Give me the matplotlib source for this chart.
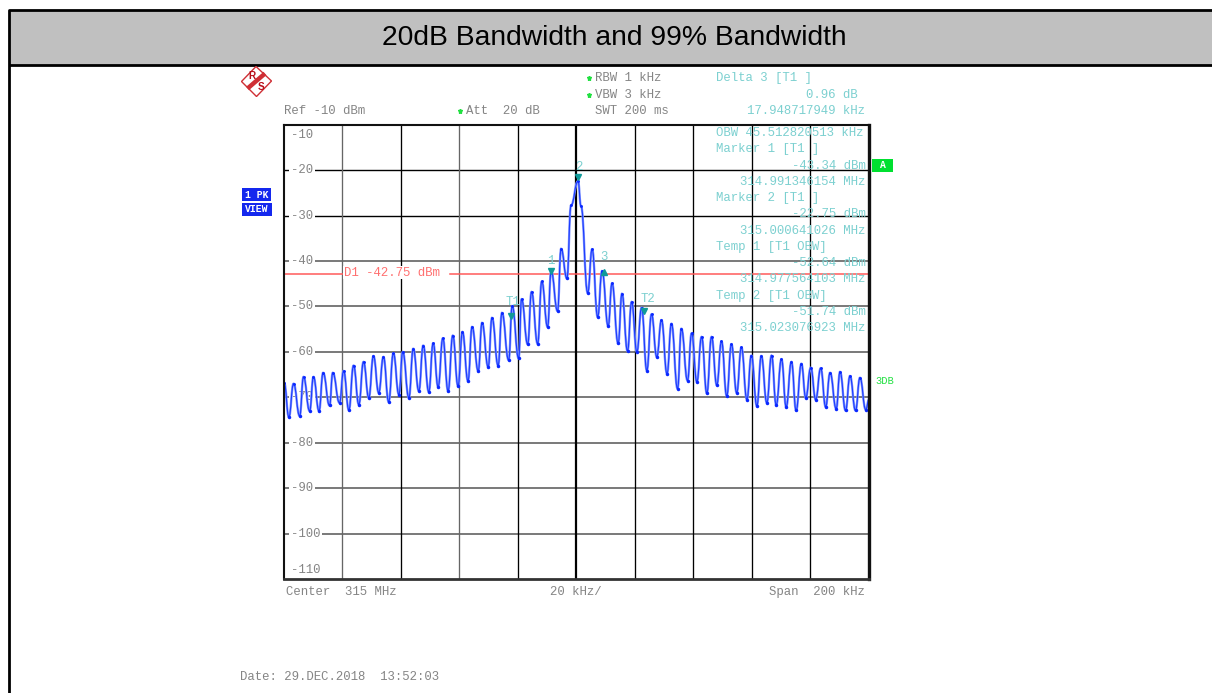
import matplotlib
matplotlib.use("Agg")
import matplotlib.pyplot as plt
from matplotlib.path import Path
from matplotlib.patches import PathPatch, Rectangle, Polygon

# ---- data ----
peak_khz = [-99.8,-96.6,-93.2,-89.8,-86.5,-83.2,-79.5,-76.1,-72.7,-69.3,-65.9,-62.5,-59.3,-55.7,-52.3,-48.9,
            -45.6,-42.2,-38.9,-35.6,-32.2,-28.8,-25.4,-21.9,-18.7,-15.3,-11.8,-8.6,-5.2,-1.8,0.6,1.6,5.4,8.8,
            12.2,15.6,18.9,22.3,25.7,29.1,32.5,35.9,39.4,42.8,46.2,49.6,53.0,56.4,59.8,63.2,66.7,70.1,73.5,
            76.9,80.1,83.5,86.7,90.1,93.5,96.9]
peak_dbm = [-66.8,-67.0,-65.5,-65.5,-64.6,-64.6,-64.2,-63.0,-62.2,-60.9,-61.1,-60.3,-60.0,-59.3,-58.6,-58.1,
            -57.0,-56.4,-55.6,-54.5,-53.6,-52.5,-51.4,-49.9,-48.4,-46.8,-44.5,-42.2,-37.3,-27.7,-22.4,-27.9,
            -37.4,-42.2,-44.9,-47.2,-49.0,-50.3,-51.7,-53.0,-53.8,-54.9,-55.9,-56.7,-56.7,-57.7,-58.3,-59.0,
            -60.8,-60.9,-60.8,-61.6,-62.2,-62.6,-63.5,-63.6,-64.6,-64.4,-65.3,-65.7]
trough_khz = [-98.2,-94.5,-91.1,-87.9,-84.3,-80.9,-77.7,-74.3,-70.9,-67.5,-64.1,-60.6,-57.2,-53.8,-50.4,-47.2,
              -43.8,-40.4,-37.0,-33.5,-30.1,-26.7,-23.1,-19.7,-16.6,-13.2,-9.8,-6.4,-3.2,3.9,7.3,10.9,14.3,17.5,
              20.7,24.1,27.5,31.0,34.6,38.0,41.2,44.6,48.0,51.4,54.8,58.3,61.7,65.1,68.3,71.7,75.1,78.4,81.8,
              85.2,88.8,92.0,95.4,98.9]
trough_dbm = [-74.35,-74.1,-73.0,-73.0,-71.8,-71.2,-72.8,-71.6,-70.1,-69.0,-71.0,-69.4,-70.1,-68.6,-68.8,-67.7,
              -68.6,-67.5,-66.4,-64.2,-63.3,-63.0,-61.8,-61.4,-58.3,-58.2,-54.5,-51.0,-43.8,-47.0,-52.3,-54.3,
              -58.1,-59.8,-60.0,-64.1,-61.1,-64.8,-68.1,-66.3,-66.6,-69.1,-67.3,-69.7,-69.0,-70.5,-71.9,-71.2,
              -71.7,-72.1,-72.9,-70.1,-70.5,-72.1,-72.5,-72.9,-72.9,-72.7]
trace_end_khz = [-100.0, 100.0]
trace_end_dbm = [-67.5, -70.5]

marker_khz = [-8.65, 0.64, 9.3, -22.44, 23.08]
marker_dbm = [-42.2, -21.6, -42.4, -52.2, -50.9]
marker_names = ["1", "2", "3", "T1", "T2"]
marker_shape = ["v", "v", "^", "v", "v"]
display_line_dbm = -42.75
level_ticks = [-10,-20,-30,-40,-50,-60,-70,-80,-90,-100,-110]
freq_ticks = [-80,-60,-40,-20,0,20,40,60,80]

title = "20dB Bandwidth and 99% Bandwidth"
teal_left = [("Delta 3 [T1 ]",78),("OBW 45.512820513 kHz",133),("Marker 1 [T1 ]",149),("Marker 2 [T1 ]",198),
             ("Temp 1 [T1 OBW]",247),("Temp 2 [T1 OBW]",296)]
teal_right = [("0.96 dB",95,858),("17.948717949 kHz",111,865),("-43.34 dBm",166,866),("314.991346154 MHz",182,865),
              ("-22.75 dBm",214,866),("315.000641026 MHz",231,865),("-52.64 dBm",263,866),
              ("314.977564103 MHz",279,865),("-51.74 dBm",312,866),("315.023076923 MHz",328,865)]

W, H = 1212, 693
MONO = "Liberation Mono"
FS = 8.95
GREY = "#858585"
TEAL = "#7cd0d0"
GREEN = "#20e040"

fig = plt.figure(figsize=(W/100, H/100), dpi=100, facecolor="white")

def frame(x0, y0, x1, y1):
    return [x0/W, 1-y1/H, (x1-x0)/W, (y1-y0)/H]

# ---- spectrum axes ----
ax = fig.add_axes(frame(283.6, 124.8, 869.0, 579.0))
ax.set_xlim(-100, 100)
ax.set_ylim(-110, -10)
ax.set_xticks([]); ax.set_yticks([])
for s in ax.spines.values():
    s.set_linewidth(1.5); s.set_color("#111111"); s.set_zorder(6)
ax.spines["right"].set_linewidth(2.4)
ax.spines["bottom"].set_linewidth(2.0)
ax.spines["bottom"].set_color("#333333")

for v in level_ticks[1:-1]:
    ax.axhline(v, color="#000000" if v > -35 else "#555555", lw=1.0 if v > -35 else 1.1, zorder=1)
for f in freq_ticks:
    col = "#666666" if f in (-80, -40) else "#000000"
    ax.axvline(f, color=col, lw=1.6 if f == 0 else 0.95, zorder=1)

ax.plot([-100, -79.6], [display_line_dbm] * 2, color="#ff5a5a", lw=1.1, zorder=2)
ax.plot([-43.2, 100], [display_line_dbm] * 2, color="#ff5a5a", lw=1.1, zorder=2)

# level labels sit under the trace
for v in level_ticks:
    yv = {-10: -12.2, -110: -108.0}.get(v, v)
    ax.text(-97.5, yv, str(v), family=MONO, fontsize=FS, color=GREY, ha="left", va="center", zorder=2.5,
            bbox=dict(fc="white", ec="none", pad=1.2) if -110 < v < -10 else None)

# trace: smooth path through read extrema
pts = sorted(list(zip(peak_khz, peak_dbm)) + list(zip(trough_khz, trough_dbm)) +
             list(zip(trace_end_khz, trace_end_dbm)))
verts = [pts[0]]
codes = [Path.MOVETO]
for (x0, y0), (x1, y1) in zip(pts[:-1], pts[1:]):
    d = (x1 - x0) * 0.46
    verts += [(x0 + d, y0), (x1 - d, y1), (x1, y1)]
    codes += [Path.CURVE4] * 3
trace_path = Path(verts, codes)
ax.add_patch(PathPatch(trace_path, fc="none", ec="#8296ff", lw=1.7, zorder=3))
ax.add_patch(PathPatch(trace_path, fc="none", ec="#1c3cff", lw=0.8, zorder=3.5))
ax.plot(peak_khz, peak_dbm, ls="none", marker="o", ms=2.1, mfc="#0a28ff", mec="none", zorder=4)
ax.plot(trough_khz, trough_dbm, ls="none", marker="o", ms=2.5, mfc="#0a28ff", mec="none", zorder=4)

for x, y, sh in zip(marker_khz, marker_dbm, marker_shape):
    ax.plot([x], [y], ls="none", marker=sh, ms=5, mfc="#109a9a", mec="#109a9a", zorder=5)

# ---- overlay in pixel coordinates ----
ov = fig.add_axes([0, 0, 1, 1], facecolor="none")
ov.set_xlim(0, W); ov.set_ylim(H, 0); ov.axis("off")

ov.add_patch(Rectangle((9, 10), W-9, 55, fc="#c0c0c0", ec="none", zorder=1))
ov.plot([W, 9, 9], [10, 10, H], color="black", lw=2.0, solid_capstyle="butt", zorder=2)
ov.plot([9, W], [65, 65], color="black", lw=2.0, solid_capstyle="butt", zorder=2)
ov.text(614.5, 38, title, family="Liberation Sans", fontsize=20.3, color="black", ha="center", va="center")

def mono(x, y, s, color=GREY, ha="left", fs=FS, **kw):
    return ov.text(x, y, s, family=MONO, fontsize=fs, color=color, ha=ha, va="center", zorder=5, **kw)

mono(284.5, 111, "Ref -10 dBm")
mono(466.5, 111, "Att  20 dB")
mono(595, 78, "RBW 1 kHz")
mono(595, 95, "VBW 3 kHz")
mono(595, 111, "SWT 200 ms")
for sx, sy in [(460, 111), (589, 78), (589, 95)]:
    ov.plot([sx], [sy], ls="none", marker="*", ms=3.6, color=GREEN, zorder=5)

for s, y in teal_left:
    mono(716, y, s, TEAL)
for s, y, x in teal_right:
    mono(x, y, s, TEAL, ha="right")

# display line label
mono(344, 272.7, "D1 -42.75 dBm", "#ff7070", bbox=dict(fc="white", ec="none", pad=0.5))

# marker labels
for s, x, y in zip(marker_names, [551, 578.5, 604, 513, 648], [261, 167, 257, 302, 299]):
    mono(x, y, s, TEAL, ha="center")

# bottom texts
mono(286, 592, "Center  315 MHz")
mono(550.5, 592, "20 kHz/")
mono(865, 592, "Span  200 kHz", ha="right")
mono(240, 677, "Date: 29.DEC.2018  13:52:03")

# side boxes
ov.add_patch(Rectangle((242, 188.3), 28.7, 12.7, fc="#1428ee", ec="none"))
ov.add_patch(Rectangle((242, 202.7), 29.7, 13, fc="#1428ee", ec="none"))
mono(256.3, 194.8, "1 PK", "white", ha="center", fs=7.0, fontweight="bold")
mono(256.8, 209.3, "VIEW", "white", ha="center", fs=7.0, fontweight="bold")
ov.add_patch(Rectangle((872, 158.7), 21.3, 13.3, fc="#00e030", ec="none"))
mono(882.5, 165.5, "A", "white", ha="center", fs=7.0, fontweight="bold")
mono(875, 381, "3DB", GREEN, fs=7.5)

# logo
RED = "#cf2f35"
ov.add_patch(Polygon([(241.5, 81.5), (256, 66.5), (271.5, 81), (256.5, 96.5)], closed=True,
                     fc="white", ec=RED, lw=1.0, zorder=3))
ov.plot([247.5, 265], [88.5, 73.5], color=RED, lw=3.2, solid_capstyle="butt", zorder=4)
ov.text(251.7, 76, "R", family="Liberation Sans", fontsize=7.2, fontweight="bold", color="#b80f1a",
        ha="center", va="center", zorder=5)
ov.text(260.7, 87, "S", family="Liberation Sans", fontsize=7.2, fontweight="bold", color="#b80f1a",
        ha="center", va="center", zorder=5)

fig.savefig("out.png", dpi=100)
